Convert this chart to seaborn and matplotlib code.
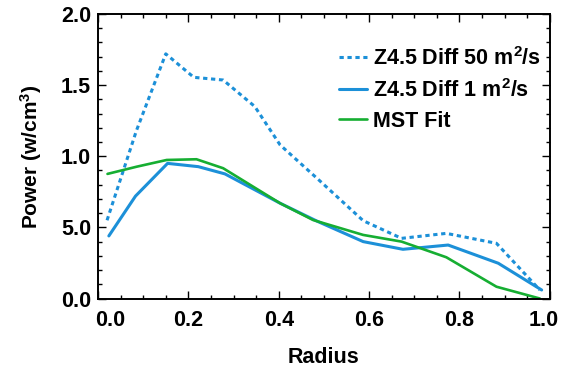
import numpy as np
import pandas as pd
import matplotlib
matplotlib.use("Agg")
import matplotlib.pyplot as plt
from matplotlib.ticker import MultipleLocator
from matplotlib.transforms import ScaledTranslation
import seaborn as sns

# =========================================
# DATA
# =========================================

radius_50 = [0.02, 0.085, 0.15, 0.212, 0.277, 0.347, 0.403, 0.49, 0.587, 0.672, 0.771, 0.882, 0.978]
power_50 = [0.55, 1.18, 1.72, 1.555, 1.536, 1.35, 1.08, 0.83, 0.547, 0.423, 0.458, 0.388, 0.06]

radius_1 = [0.024, 0.083, 0.154, 0.222, 0.281, 0.403, 0.484, 0.587, 0.675, 0.775, 0.886, 0.982]
power_1 = [0.44, 0.72, 0.95, 0.927, 0.876, 0.67, 0.545, 0.40, 0.346, 0.376, 0.248, 0.06]

radius_mst = [0.021, 0.086, 0.152, 0.218, 0.277, 0.403, 0.476, 0.587, 0.672, 0.771, 0.882, 0.978]
power_mst = [0.876, 0.927, 0.974, 0.979, 0.916, 0.67, 0.552, 0.447, 0.40, 0.29, 0.083, 0.0]

x_ticks = [0.0, 0.2, 0.4, 0.6, 0.8, 1.0]
y_ticks = [0.0, 0.5, 1.0, 1.5, 2.0]
y_tick_labels = ["0.0", "5.0", "1.0", "1.5", "2.0"]

blue = "#1c90d8"
green = "#16ae32"

# =========================================
# STYLE
# =========================================

sns.set_style("ticks")
plt.rcParams["font.family"] = ["Liberation Sans", "DejaVu Sans"]
plt.rcParams["font.weight"] = "bold"
plt.rcParams["text.color"] = "black"
plt.rcParams["axes.labelcolor"] = "black"
plt.rcParams["xtick.color"] = "black"
plt.rcParams["ytick.color"] = "black"
plt.rcParams["mathtext.fontset"] = "custom"
plt.rcParams["mathtext.rm"] = "Liberation Sans:bold"
plt.rcParams["mathtext.bf"] = "Liberation Sans:bold"
plt.rcParams["mathtext.it"] = "Liberation Sans:bold"

fig = plt.figure(figsize=(5.61, 3.69), dpi=100)
ax = fig.add_axes([0.1747, 0.191, 0.8053, 0.771])

# =========================================
# LINES
# =========================================

sns.lineplot(x=radius_50, y=power_50, ax=ax, color=blue, linewidth=2.2,
             linestyle=(0, (1.4, 1.2)), label=r"Z4.5 Diff 50 m$^2$/s")
sns.lineplot(x=radius_1, y=power_1, ax=ax, color=blue, linewidth=2.2,
             label=r"Z4.5 Diff 1 m$^2$/s")
sns.lineplot(x=radius_mst, y=power_mst, ax=ax, color=green, linewidth=1.9,
             label="MST Fit")

# =========================================
# AXES
# =========================================

ax.set_xlim(0, 1)
ax.set_ylim(0, 2)
ax.set_xticks(x_ticks)
ax.set_xticklabels([f"{v:.1f}" for v in x_ticks])
ax.set_yticks(y_ticks)
ax.set_yticklabels(y_tick_labels)
ax.xaxis.set_minor_locator(MultipleLocator(0.05))
ax.yaxis.set_minor_locator(MultipleLocator(0.1))

ax.tick_params(which="both", direction="in", top=True, right=True,
               width=1.0, color="black", labelcolor="black")
ax.tick_params(which="major", length=6, labelsize=15.5)
ax.tick_params(axis="x", which="major", pad=8)
ax.tick_params(axis="y", which="major", pad=5)
ax.tick_params(which="minor", length=3)

for lab in ax.get_xticklabels() + ax.get_yticklabels():
    lab.set_fontweight("bold")

# end labels sit inside the axis, as in the reference
xlabels = ax.get_xticklabels()
xlabels[0].set_transform(xlabels[0].get_transform()
                         + ScaledTranslation(12 / 100, 0, fig.dpi_scale_trans))
xlabels[-1].set_transform(xlabels[-1].get_transform()
                          + ScaledTranslation(-6 / 100, 0, fig.dpi_scale_trans))

for spine in ax.spines.values():
    spine.set_linewidth(1.4)
    spine.set_color("black")

ax.set_xlabel("Radius", fontsize=15.5, fontweight="bold", labelpad=12)
ax.set_ylabel(r"Power (w/cm$^3$)", fontsize=15, fontweight="bold", labelpad=12)

leg = ax.legend(loc="upper right", bbox_to_anchor=(1.0, 0.915), frameon=False,
                fontsize=15.5, handlelength=1.3, handletextpad=0.3,
                labelspacing=0.42, borderaxespad=0.0)
for t in leg.get_texts():
    t.set_fontweight("bold")
    t.set_color("black")

fig.savefig("out.png", dpi=100)
